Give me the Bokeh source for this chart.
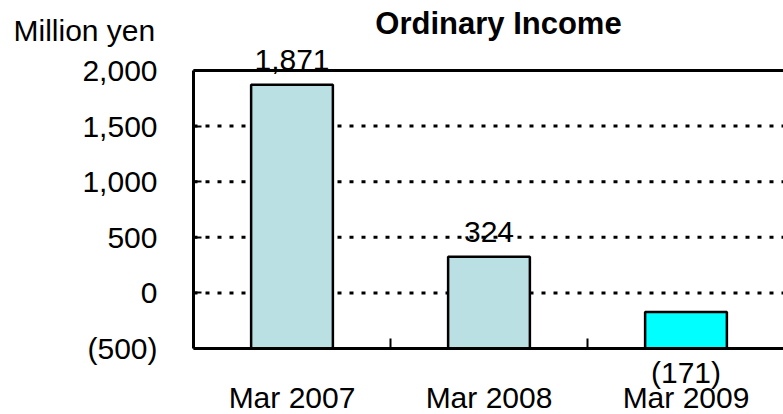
from bokeh.plotting import figure
from bokeh.models import FixedTicker, Label, Range1d, ColumnDataSource
from bokeh.embed import file_html
from bokeh.resources import INLINE

# ---- data ----
categories = ["Mar 2007", "Mar 2008", "Mar 2009"]
values = [1871, 324, -171]
value_labels = ["1,871", "324", "(171)"]
bar_colors = ["#BAE0E3", "#BAE0E3", "#00FFFF"]
y_ticks = [-500, 0, 500, 1000, 1500, 2000]
y_tick_labels = ["(500)", "0", "500", "1,000", "1,500", "2,000"]
y_min, y_max = -500, 2000
unit_label = "Million yen"
title_text = "Ordinary Income"

# ---- layout (pixel positions of the plot area in the picture) ----
W, H = 783, 414
AX_LEFT, AX_TOP, AX_BOTTOM = 193, 70, 348
CAT_W = 197
FONT = "Liberation Sans"
FS = "30px"

PX_PER_UNIT = (AX_BOTTOM - AX_TOP) / (y_max - y_min)
x_range = Range1d(-AX_LEFT / CAT_W, (W - AX_LEFT) / CAT_W)
y_range = Range1d(y_min - (H - AX_BOTTOM) / PX_PER_UNIT, y_max + AX_TOP / PX_PER_UNIT)

p = figure(width=W, height=H, output_backend="svg", toolbar_location=None,
           x_range=x_range, y_range=y_range,
           min_border=0, min_border_left=0, min_border_right=0,
           min_border_top=0, min_border_bottom=0)
p.outline_line_color = None
p.background_fill_color = "white"
p.border_fill_color = "white"
p.grid.visible = False

def img_x(px):
    return px / CAT_W + x_range.start

def img_y(py):
    return y_range.end - py / PX_PER_UNIT

n = len(categories)
xs = [i + 0.5 for i in range(n)]

# dotted gridlines
grid_vals = [t for t in y_ticks if y_min < t < y_max]
p.segment(x0=[0] * len(grid_vals), x1=[n] * len(grid_vals), y0=grid_vals, y1=grid_vals,
          line_color="black", line_width=3, line_dash="4 8")

# bars (drawn from the axis floor up to the value)
src = ColumnDataSource(dict(x=xs, top=values, bottom=[y_min] * n, color=bar_colors))
p.vbar(x="x", top="top", bottom="bottom", width=0.415, source=src,
       fill_color="color", line_color="black", line_width=2.5)

# top border
p.segment(x0=[0], x1=[n], y0=[y_max], y1=[y_max], line_color="black", line_width=3)

# y axis
ya = p.yaxis[0]
ya.fixed_location = 0
ya.bounds = (y_min, y_max)
ya.ticker = FixedTicker(ticks=y_ticks)
ya.major_label_overrides = {t: s for t, s in zip(y_ticks, y_tick_labels)}
ya.axis_line_width = 3
ya.axis_line_color = "black"
ya.major_tick_in = 8
ya.major_tick_out = 0
ya.major_tick_line_width = 2
ya.major_tick_line_color = "black"
ya.minor_tick_line_color = None
ya.major_label_standoff = 36
ya.major_label_text_font = FONT
ya.major_label_text_font_size = FS
ya.major_label_text_color = "black"

# x axis
xa = p.xaxis[0]
xa.fixed_location = y_min
xa.bounds = (0, n)
xa.ticker = FixedTicker(ticks=xs, minor_ticks=list(range(1, n)))
xa.major_label_overrides = {x: c for x, c in zip(xs, categories)}
xa.axis_line_width = 3
xa.axis_line_color = "black"
xa.major_tick_line_color = None
xa.major_tick_in = 0
xa.major_tick_out = 0
xa.minor_tick_in = 10
xa.minor_tick_out = 0
xa.minor_tick_line_width = 2
xa.minor_tick_line_color = "black"
xa.major_label_standoff = 32
xa.major_label_text_font = FONT
xa.major_label_text_font_size = FS
xa.major_label_text_color = "black"

for x, v, s in zip(xs, values, value_labels):
    off = 25 if v >= 0 else -61
    p.add_layout(Label(x=x, y=v, y_offset=off, text=s, text_align="center",
                       text_baseline="alphabetic", text_font=FONT, text_font_size=FS,
                       text_color="black"))

p.add_layout(Label(x=img_x(498), y=img_y(23), text=title_text, text_align="center",
                   text_baseline="alphabetic", text_font=FONT, text_font_size="31px",
                   text_font_style="bold", text_color="black"))
p.add_layout(Label(x=img_x(13), y=img_y(30), text=unit_label, text_align="left",
                   text_baseline="alphabetic", text_font=FONT, text_font_size=FS,
                   text_color="black"))

open("out.html", "w").write(file_html(p, INLINE))
